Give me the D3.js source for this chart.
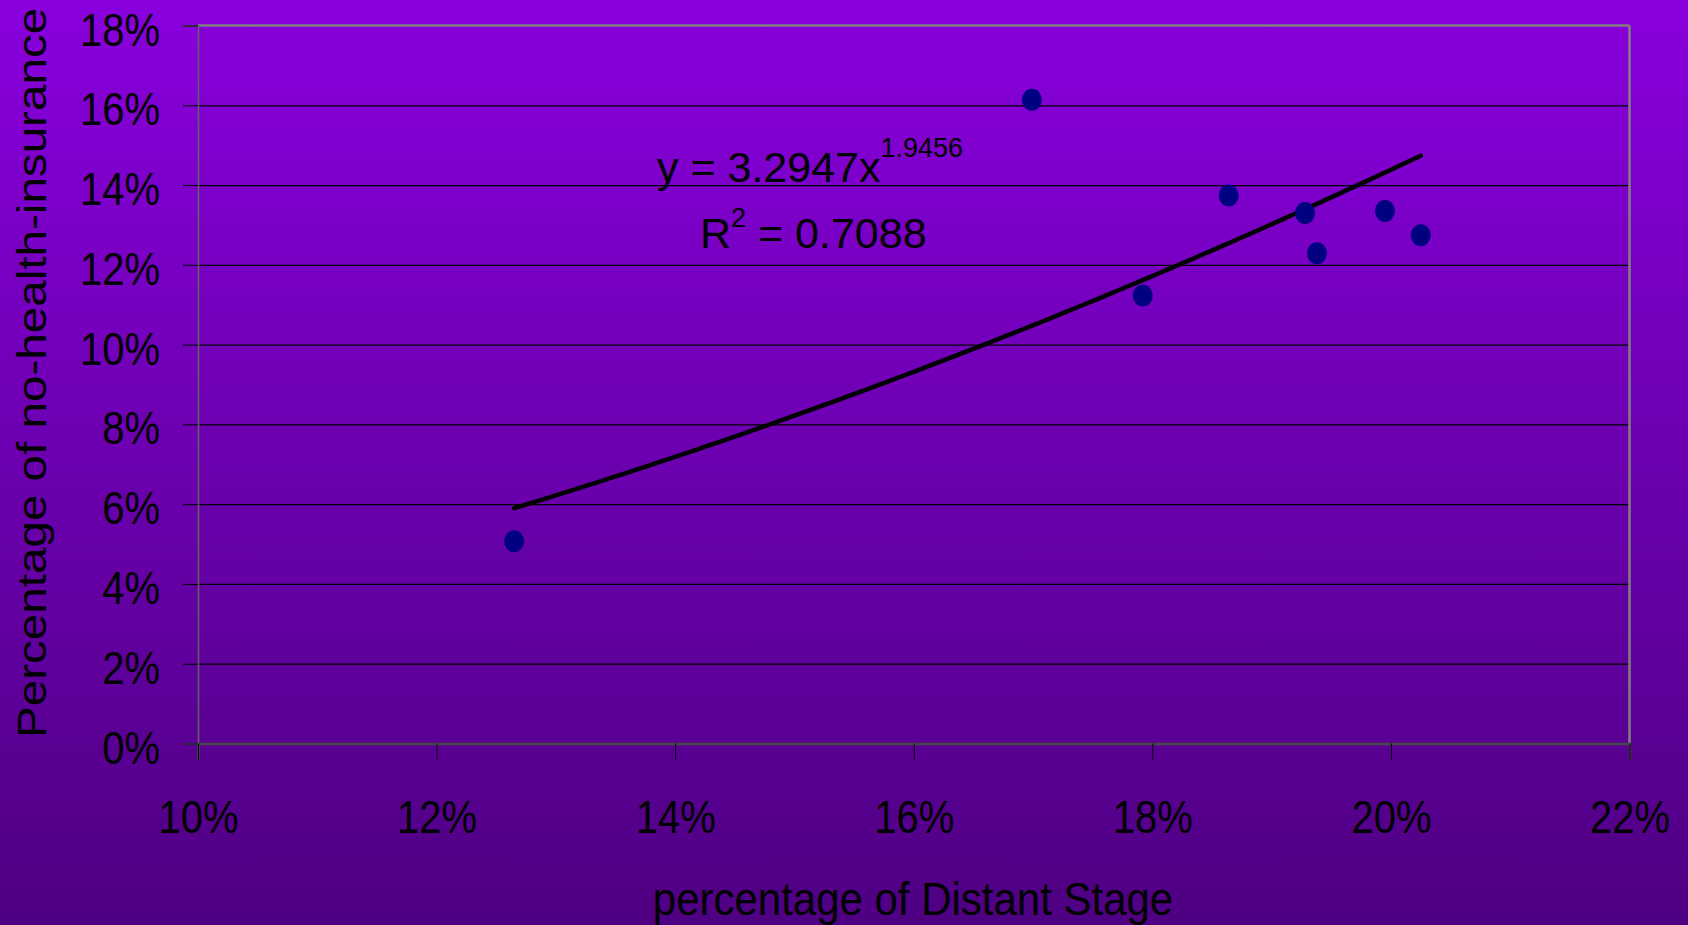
<!DOCTYPE html>
<html>
<head>
<meta charset="utf-8">
<script src="https://cdn.jsdelivr.net/npm/d3@7"></script>
<style>
  html, body { margin: 0; padding: 0; overflow: hidden; }
  svg { display: block; }
  text { font-family: "Liberation Sans", Arial, sans-serif; fill: #000; }
</style>
</head>
<body>
<script>
// ---- data ----
const distantStage = [0.1265, 0.1699, 0.1792, 0.1864, 0.1928, 0.1938, 0.1995, 0.2025];
const noInsurance  = [0.0507, 0.1614, 0.1123, 0.1374, 0.1330, 0.1229, 0.1335, 0.1274];
const xTicks = [0.10, 0.12, 0.14, 0.16, 0.18, 0.20, 0.22];
const yTicks = [0, 0.02, 0.04, 0.06, 0.08, 0.10, 0.12, 0.14, 0.16, 0.18];
const trendA = 3.2947;
const trendB = 1.9456;
const trendR2 = "0.7088";
const xTitle = "percentage of Distant Stage";
const yTitle = "Percentage of no-health-insurance";

// ---- layout ----
const W = 1688, H = 925;
const L = 198, R = 1629.5, T = 25.5, B = 743.5;

const svg = d3.select("body").append("svg").attr("width", W).attr("height", H);
const defs = svg.append("defs");
const grad = defs.append("linearGradient").attr("id", "bg")
  .attr("x1", 0).attr("y1", 0).attr("x2", 0).attr("y2", 1);
grad.append("stop").attr("offset", "0%").attr("stop-color", "#8900dd");
grad.append("stop").attr("offset", "100%").attr("stop-color", "#4e0082");
svg.append("rect").attr("width", W).attr("height", H).attr("fill", "url(#bg)");

const x = d3.scaleLinear().domain([0.10, 0.22]).range([L, R]);
const y = d3.scaleLinear().domain([0, 0.18]).range([B, T]);
const pct = d3.format(".0%");

// gridlines
svg.append("g")
  .attr("transform", `translate(${L},0)`)
  .call(d3.axisLeft(y).tickValues(yTicks.filter(v => v > 0 && v < 0.18)).tickSize(-(R - L)).tickFormat(""))
  .call(g => g.select(".domain").remove())
  .call(g => g.selectAll("line").attr("stroke", "#000").attr("stroke-width", 1.2));

// plot border: top and right in gray
svg.append("line").attr("x1", L).attr("x2", R).attr("y1", y(0.18)).attr("y2", y(0.18))
  .attr("stroke", "#808080").attr("stroke-width", 2.5);
svg.append("line").attr("x1", R).attr("x2", R).attr("y1", T).attr("y2", B)
  .attr("stroke", "#808080").attr("stroke-width", 2.5);

// y axis
const yAx = svg.append("g")
  .attr("transform", `translate(${L},0)`)
  .call(d3.axisLeft(y).tickValues(yTicks).tickSize(15).tickFormat(pct));
yAx.select(".domain").attr("stroke", "#606060").attr("stroke-width", 1.6);
yAx.selectAll(".tick line").attr("stroke", "#000").attr("stroke-width", 1);
yAx.selectAll(".tick text")
  .attr("x", 0).attr("y", 0).attr("dy", null)
  .attr("text-anchor", "end")
  .attr("font-size", 40)
  .attr("font-family", "'Liberation Sans', Arial, sans-serif")
  .attr("fill", "#000")
  .attr("transform", "translate(-38,19.5) scale(1,1.15)");

// x axis
const xAx = svg.append("g")
  .attr("transform", `translate(0,${B})`)
  .call(d3.axisBottom(x).tickValues(xTicks).tickSize(16).tickFormat(pct));
xAx.select(".domain").attr("stroke", "#484848").attr("stroke-width", 2.4);
xAx.selectAll(".tick line").attr("stroke", "#000").attr("stroke-width", 1);
xAx.selectAll(".tick text")
  .attr("x", 0).attr("y", 0).attr("dy", null)
  .attr("text-anchor", "middle")
  .attr("font-size", 40)
  .attr("font-family", "'Liberation Sans', Arial, sans-serif")
  .attr("fill", "#000")
  .attr("transform", `translate(0,${833 - B}) scale(1,1.15)`);

// trendline (power fit y = a x^b)
const x0 = d3.min(distantStage), x1 = d3.max(distantStage);
const trendPts = d3.range(0, 101).map(i => {
  const xv = x0 + (x1 - x0) * i / 100;
  return [xv, trendA * Math.pow(xv, trendB)];
});
svg.append("path")
  .datum(trendPts)
  .attr("fill", "none")
  .attr("stroke", "#000")
  .attr("stroke-width", 4.5)
  .attr("stroke-linecap", "round")
  .attr("stroke-linejoin", "round")
  .attr("d", d3.line().x(d => x(d[0])).y(d => y(d[1])));

// points
svg.append("g").selectAll("ellipse")
  .data(distantStage.map((d, i) => [d, noInsurance[i]]))
  .join("ellipse")
  .attr("cx", d => x(d[0]))
  .attr("cy", d => y(d[1]))
  .attr("rx", 10).attr("ry", 11)
  .attr("fill", "#000080");

// equation labels
const eq1 = svg.append("text").attr("x", 657).attr("y", 182).attr("font-size", 43);
eq1.append("tspan").text("y = " + trendA + "x");
eq1.append("tspan").attr("font-size", 27).attr("dy", -25).text(trendB);

const eq2 = svg.append("text").attr("x", 700).attr("y", 248).attr("font-size", 43);
eq2.append("tspan").text("R");
eq2.append("tspan").attr("font-size", 27).attr("dy", -21).text("2");
eq2.append("tspan").attr("dy", 21).text(" = " + trendR2);

// axis titles
svg.append("text")
  .attr("text-anchor", "middle")
  .attr("font-size", 42)
  .attr("transform", "translate(913,915) scale(1,1.1)")
  .text(xTitle);

svg.append("text")
  .attr("text-anchor", "start")
  .attr("font-size", 40)
  .attr("transform", "translate(46,738) rotate(-90) scale(1.19,1)")
  .text(yTitle);
</script>
</body>
</html>
